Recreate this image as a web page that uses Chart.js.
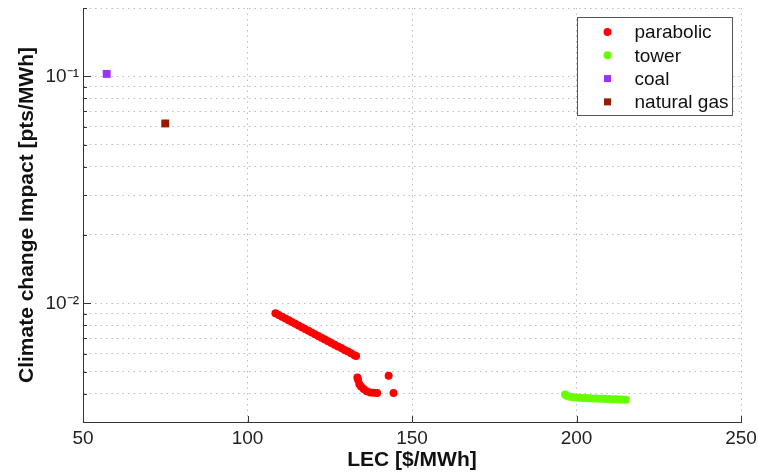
<!DOCTYPE html>
<html>
<head>
<meta charset="utf-8">
<script src="https://cdn.jsdelivr.net/npm/chart.js@4/dist/chart.umd.min.js"></script>
<style>
html,body{margin:0;padding:0;background:#fff}
</style>
</head>
<body>
<canvas id="chart" width="758" height="474"></canvas>
<script>
// values
let parabolicX=[108.5,109.5,110.5,111.5,112.5,113.5,114.5,115.5,116.5,117.5,118.5,119.5,120.5,121.5,122.5,123.5,124.5,125.5,126.5,127.5,128.5,129.5,130.5,131.5,132.5,133,
    133.4,133.6,134.0,134.5,135.3,136.2,137.3,138.3,139.4,142.9,144.4];
let parabolicY=[0.00904,0.00888,0.00872,0.00857,0.00842,0.00827,0.00813,0.00799,0.00785,0.00771,0.00757,0.00744,0.00731,0.00718,0.00706,0.00693,0.00681,0.00669,0.00657,0.00646,0.00635,0.00623,0.00613,0.00602,0.00591,0.00586,
    0.00471,0.00460,0.00440,0.00430,0.00419,0.00410,0.00405,0.00404,0.00403,0.00479,0.00403];
let towerX=[196.5,197,198,199,200,201,202,203,204,205,206,207,208,209,210,211,212,213,214,215];
let towerY=[0.00397,0.00392,0.00388,0.00386,0.00385,0.00384,0.00383,0.00383,0.00382,0.00381,0.00381,0.00380,0.00380,0.00379,0.00379,0.00378,0.00378,0.00377,0.00377,0.00376];
let coalX=[57.2];
let coalY=[0.1025];
let gasX=[75];
let gasY=[0.062];

let seriesNames=['parabolic','tower','coal','natural gas'];
let seriesColors=['rgb(255,0,0)','rgb(102,255,0)','rgb(153,51,255)','rgb(153,26,0)'];

let xTicks=[50,100,150,200,250];
let yTicks=[0.003,0.004,0.005,0.006,0.007,0.008,0.009,0.01,0.02,0.03,0.04,0.05,0.06,0.07,0.08,0.09,0.1,0.2];
let yLabels={0.01:'10\u207B\u00B2',0.1:'10\u207B\u00B9'};

function pts(xs,ys){
    let out=[];
    for(let i=0;i<xs.length;i++) out.push({x:xs[i],y:ys[i]});
    return out;
}

const FONT='"Liberation Sans", Arial, sans-serif';

// inward tick marks like the original figure
const innerTicks={
    id:'innerTicks',
    afterDatasetsDraw(chart){
        const ctx=chart.ctx, xs=chart.scales.x, ys=chart.scales.y;
        const a=chart.chartArea;
        ctx.save();
        ctx.strokeStyle='#333';
        ctx.lineWidth=1;
        ctx.beginPath();
        yTicks.forEach(v=>{
            let py=Math.round(ys.getPixelForValue(v))+0.5;
            let len=yLabels[v]?8:4;
            ctx.moveTo(a.left,py);ctx.lineTo(a.left+len,py);
        });
        xTicks.forEach(v=>{
            let px=Math.round(xs.getPixelForValue(v))+0.5;
            ctx.moveTo(px,a.bottom);ctx.lineTo(px,a.bottom-6);
        });
        ctx.stroke();
        ctx.restore();
    }
};

const legendBox={
    id:'legendBox',
    afterDraw(chart){
        const ctx=chart.ctx, a=chart.chartArea;
        const w=155,h=98;
        const x0=Math.round(a.right-9-w)+0.5, y0=Math.round(a.top+9)+0.5;
        ctx.save();
        ctx.fillStyle='#fff';
        ctx.fillRect(x0,y0,w,h);
        ctx.strokeStyle='#555';
        ctx.lineWidth=1;
        ctx.strokeRect(x0,y0,w,h);
        ctx.font='19px '+FONT;
        ctx.textBaseline='middle';
        chart.data.datasets.forEach((d,i)=>{
            let cy=y0+14.5+i*23.3;
            let cx=x0+30;
            ctx.fillStyle=d.backgroundColor;
            if(d.pointStyle==='rect'){
                ctx.fillRect(cx-3.5,cy-3.5,7,7);
            }else{
                ctx.beginPath();ctx.arc(cx,cy,4,0,Math.PI*2);ctx.fill();
            }
            ctx.fillStyle='#111';
            ctx.fillText(d.label,x0+57,cy+1);
        });
        ctx.restore();
    }
};

let datasets=[
    {label:seriesNames[0],data:pts(parabolicX,parabolicY),pointStyle:'circle',pointRadius:4},
    {label:seriesNames[1],data:pts(towerX,towerY),pointStyle:'circle',pointRadius:4},
    {label:seriesNames[2],data:pts(coalX,coalY),pointStyle:'rect',pointRadius:5.6},
    {label:seriesNames[3],data:pts(gasX,gasY),pointStyle:'rect',pointRadius:5.6}
];
datasets.forEach((d,i)=>{
    d.backgroundColor=seriesColors[i];
    d.borderColor=seriesColors[i];
    d.borderWidth=0;
    d.pointHoverRadius=d.pointRadius;
});

new Chart(document.getElementById('chart'),{
    type:'scatter',
    data:{datasets:datasets},
    plugins:[innerTicks,legendBox],
    options:{
        responsive:false,
        animation:false,
        devicePixelRatio:1,
        layout:{padding:{top:8,right:17,left:0,bottom:0}},
        plugins:{legend:{display:false},tooltip:{enabled:false}},
        scales:{
            x:{
                type:'linear',min:50,max:250,
                afterBuildTicks:s=>{s.ticks=xTicks.map(v=>({value:v}));},
                afterFit:s=>{s.height=52;s.paddingLeft=0;s.paddingRight=0;},
                ticks:{font:{family:FONT,size:19},color:'#222',padding:5,maxRotation:0},
                grid:{color:'#bdbdbd',lineWidth:1,drawTicks:false},
                border:{display:true,color:'#333',width:1,dash:[1.5,4]},
                title:{display:true,text:'LEC [$/MWh]',color:'#111',font:{family:FONT,size:21,weight:'bold'},padding:{top:0,bottom:1}}
            },
            y:{
                type:'logarithmic',min:0.003,max:0.2,
                afterBuildTicks:s=>{s.ticks=yTicks.map(v=>({value:v}));},
                afterFit:s=>{s.width=83;s.paddingTop=0;s.paddingBottom=0;},
                ticks:{font:{family:FONT,size:19},color:'#222',padding:4,autoSkip:false,
                    callback:v=>yLabels[v]||''},
                grid:{color:'#bdbdbd',lineWidth:1,drawTicks:false},
                border:{display:true,color:'#333',width:1,dash:[1.5,4]},
                title:{display:true,text:'Climate change Impact [pts/MWh]',color:'#111',font:{family:FONT,size:21,weight:'bold'},padding:{top:15,bottom:0}}
            }
        }
    }
});
</script>
</body>
</html>
